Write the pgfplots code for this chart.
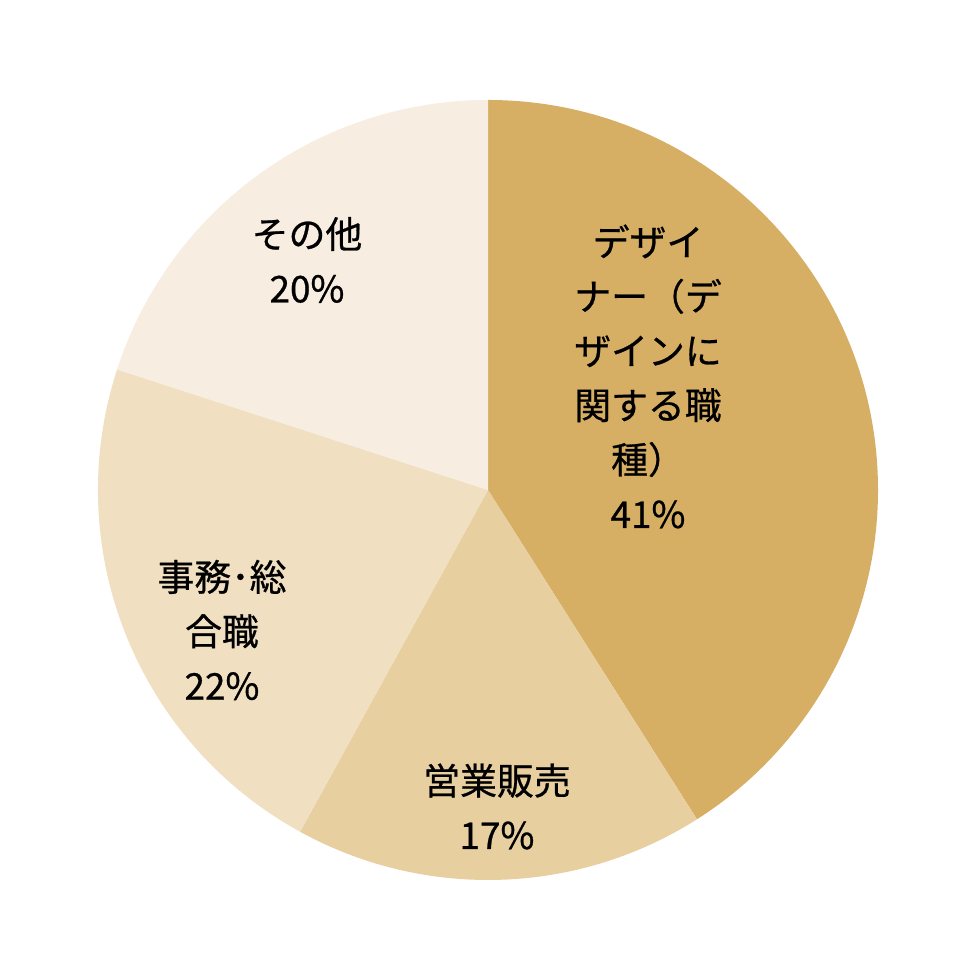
\documentclass[border=0pt]{standalone}
\usepackage{pgfplots}
\pgfplotsset{compat=1.18}
\usepackage{pgfplotstable}
\usepackage{fontspec}
\setmainfont{Noto Sans CJK JP}[FakeBold=0.7]

\definecolor{slice0}{HTML}{D6AF64}
\definecolor{slice1}{HTML}{E8CFA0}
\definecolor{slice2}{HTML}{F0DFC0}
\definecolor{slice3}{HTML}{F7EDE0}

% share of each job type, clockwise from 12 o'clock
\pgfplotstableread{
label value
designer 41
sales 17
office 22
other 20
}\piedata

\begin{document}
\begin{tikzpicture}
\begin{axis}[
  width=968bp, height=978bp, scale only axis,
  xmin=0, xmax=968, ymin=0, ymax=978,
  hide axis, clip=false,
]
\addplot[draw=none, fill=white] coordinates {(0,0) (968,0) (968,978) (0,978)} -- cycle;
\pgfplotsextra{%
  \pgfmathsetmacro\start{90}%
  \pgfplotsforeachungrouped \i in {0,1,2,3}{%
    \pgfplotstablegetelem{\i}{value}\of\piedata
    \pgfmathsetmacro\stop{\start-3.6*\pgfplotsretval}%
    \fill[slice\i] (axis cs:488,488) -- ++(\start:390bp)
      arc[start angle=\start, end angle=\stop, radius=390bp] -- cycle;
    \let\start\stop
  }%
}
\begin{scope}[every node/.style={align=center, font=\fontsize{37}{54.6}\selectfont}]
\node at (axis cs:648,601.5) {デザイ\\ナー（デ\\ザインに\\関する職\\種）\\41\%};
\node at (axis cs:497,171.5) {営業販売\\17\%};
\node at (axis cs:222,348) {事務･総\\合職\\22\%};
\node at (axis cs:307,718) {その他\\20\%};
\end{scope}
\end{axis}
\end{tikzpicture}
\end{document}
